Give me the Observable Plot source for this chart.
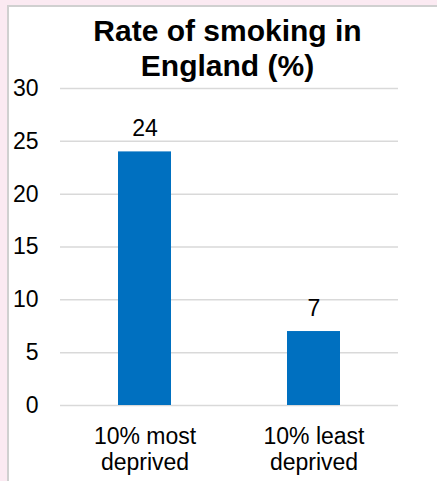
<!DOCTYPE html>
<html>
<head>
<meta charset="utf-8">
<script src="https://cdn.jsdelivr.net/npm/d3@7"></script>
<script src="https://cdn.jsdelivr.net/npm/@observablehq/plot@0.6"></script>
<style>
  html, body { margin: 0; padding: 0; }
  body { width: 437px; height: 481px; overflow: hidden; background: #fbeaf2; font-family: "Liberation Sans", Arial, sans-serif; }
  #wrap { position: relative; width: 437px; height: 481px; }
  #card { position: absolute; left: 7px; top: 5px; width: 440px; height: 490px; background: #ffffff; border-left: 2px solid #d0d0d0; border-top: 2px solid #d0d0d0; }
  #title { position: absolute; left: 0; width: 455px; top: 13px; text-align: center; font-weight: bold; font-size: 30px; line-height: 35px; color: #000; }
  #chart { position: absolute; left: 0; top: 0; }
</style>
</head>
<body>
<div id="wrap">
  <div id="card"></div>
  <div id="chart"></div>
  <div id="title">Rate of smoking in<br>England (%)</div>
</div>
<script>
const categories = ["10% most\ndeprived", "10% least\ndeprived"];
const values = [24, 7];
const yTicks = [0, 5, 10, 15, 20, 25, 30];

const data = categories.map((c, i) => ({category: c, value: values[i]}));

const chart = Plot.plot({
  width: 437,
  height: 481,
  marginTop: 88,
  marginBottom: 76,
  marginLeft: 60,
  marginRight: 39,
  style: {background: "transparent", fontFamily: "'Liberation Sans', Arial, sans-serif", color: "#000"},
  x: {domain: categories, paddingInner: 0.686, paddingOuter: 0.343},
  y: {domain: [0, 30]},
  marks: [
    Plot.gridY(yTicks, {stroke: "#d9d9d9", strokeOpacity: 1, strokeWidth: 1.5}),
    Plot.barY(data, {x: "category", y: "value", fill: "#0070C0"}),
    Plot.text(data, {x: "category", y: "value", text: d => String(d.value), lineAnchor: "bottom", dy: -16, fontSize: 23, fill: "#000"}),
    Plot.axisY(yTicks, {tickSize: 0, tickPadding: 22, fontSize: 23, label: null, fill: "#000"}),
    Plot.axisX({tickSize: 0, tickPadding: 20, fontSize: 23, lineHeight: 1.13, label: null, fill: "#000"})
  ]
});
document.getElementById("chart").appendChild(chart);
</script>
</body>
</html>
